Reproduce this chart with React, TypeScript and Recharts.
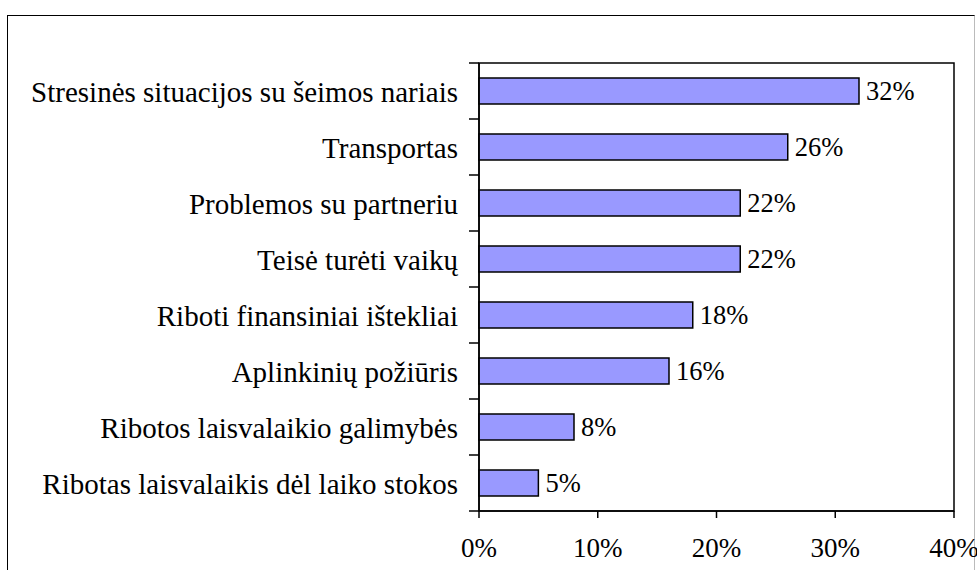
import React from "react";
import { BarChart, Bar, XAxis, YAxis, LabelList, ReferenceArea } from "recharts";

const categories = [
  "Stresinės situacijos su šeimos nariais",
  "Transportas",
  "Problemos su partneriu",
  "Teisė turėti vaikų",
  "Riboti finansiniai ištekliai",
  "Aplinkinių požiūris",
  "Ribotos laisvalaikio galimybės",
  "Ribotas laisvalaikis dėl laiko stokos",
];
const values = [32, 26, 22, 22, 18, 16, 8, 5];
const xTicks = [0, 10, 20, 30, 40];

const data = categories.map((name, i) => ({ name, value: values[i] }));

const FONT = "'Liberation Serif', 'Times New Roman', serif";

const CategoryTick = (props: any) => {
  const { x, y, payload, index } = props;
  const half = payload && payload.offset ? payload.offset : 28;
  const axisX = x + 21;
  return (
    <g>
      <text
        x={x}
        y={y + 1}
        textAnchor="end"
        dominantBaseline="central"
        fontFamily={FONT}
        fontSize={29}
        fill="#000"
      >
        {payload.value}
      </text>
      {index === 0 && (
        <line x1={axisX - 10} x2={axisX} y1={y - half} y2={y - half} stroke="#000" strokeWidth={1.5} />
      )}
      <line x1={axisX - 10} x2={axisX} y1={y + half} y2={y + half} stroke="#000" strokeWidth={1.5} />
    </g>
  );
};

export default function App() {
  return (
    <div style={{ position: "absolute", left: 0, top: 0, width: 977, height: 570, background: "#fff", overflow: "hidden" }}>
      <div
        style={{
          position: "absolute",
          left: 7,
          top: 15,
          width: 968,
          height: 600,
          borderLeft: "1.5px solid #000",
          borderTop: "1.5px solid #000",
          borderRight: "1px solid #bbb",
          boxSizing: "border-box",
        }}
      />
      <div style={{ position: "absolute", left: 0, top: 0 }}>
        <BarChart
          width={977}
          height={570}
          data={data}
          layout="vertical"
          margin={{ top: 63, right: 23, bottom: 0, left: 0 }}
          barCategoryGap={0}
        >
          <ReferenceArea x1={0} x2={40} fill="none" stroke="#000" strokeWidth={1.5} ifOverflow="visible" />
          <XAxis
            type="number"
            domain={[0, 40]}
            ticks={xTicks}
            height={59}
            tickFormatter={(v: number) => `${v}%`}
            axisLine={{ stroke: "#000", strokeWidth: 1.5 }}
            tickLine={{ stroke: "#000", strokeWidth: 1.5 }}
            tickSize={7}
            tickMargin={20}
            tick={{ fill: "#000", fontFamily: FONT, fontSize: 27 }}
            interval={0}
          />
          <YAxis
            type="category"
            dataKey="name"
            width={479}
            axisLine={{ stroke: "#000", strokeWidth: 1.5 }}
            tickLine={false}
            tickSize={0}
            tickMargin={21}
            tick={<CategoryTick />}
            interval={0}
          />
          <Bar
            dataKey="value"
            fill="#9999FF"
            stroke="#000"
            strokeWidth={1.5}
            barSize={26}
            isAnimationActive={false}
          >
            <LabelList
              dataKey="value"
              position="right"
              offset={7}
              formatter={(v: any) => `${v}%`}
              style={{ fill: "#000", fontFamily: FONT, fontSize: 26.5 }}
            />
          </Bar>
        </BarChart>
      </div>
    </div>
  );
}
